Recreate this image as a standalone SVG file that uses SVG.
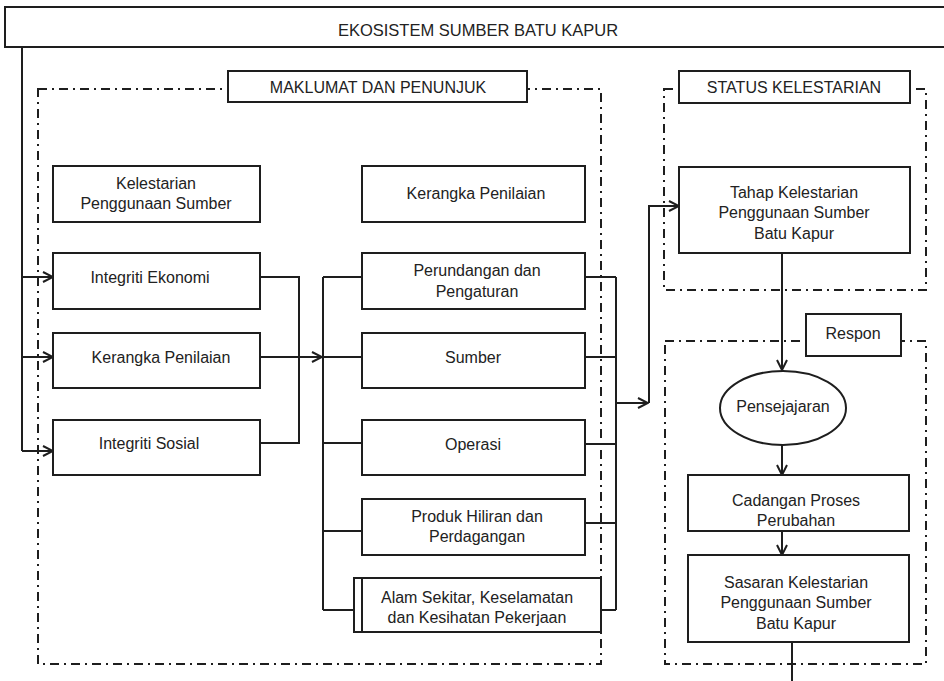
<svg xmlns="http://www.w3.org/2000/svg" width="944" height="681" viewBox="0 0 944 681">
<style>
.box{fill:#fff;stroke:#1e1e1e;stroke-width:2}
.grp{fill:none;stroke:#1e1e1e;stroke-width:2;stroke-dasharray:9 5 2 5}
.ln{fill:none;stroke:#1e1e1e;stroke-width:2}
text{font-family:"Liberation Sans",Arial,sans-serif;font-size:16px;fill:#222;text-anchor:middle}
.cap{font-size:16.5px}
</style>
<defs>
<marker id="arr" viewBox="0 0 12 12" refX="11" refY="6" markerWidth="12" markerHeight="12" markerUnits="userSpaceOnUse" orient="auto">
<path d="M1,1 L11,6 L1,11" fill="none" stroke="#1e1e1e" stroke-width="2"/>
</marker>
</defs>
<rect width="944" height="681" fill="#fff"/>

<g id="ekosistem">
<rect class="box" x="5" y="7" width="945" height="40"/>
<text class="cap" x="478" y="36">EKOSISTEM SUMBER BATU KAPUR</text>
</g>

<g id="grp-maklumat">
<rect class="grp" x="38" y="89" width="563" height="575"/>
<rect class="box" x="228" y="71" width="299" height="31"/>
<text x="378" y="93">MAKLUMAT DAN PENUNJUK</text>
</g>
<g id="grp-status">
<rect class="grp" x="664" y="89" width="262" height="201"/>
<rect class="box" x="679" y="71" width="231" height="32"/>
<text x="794" y="93">STATUS KELESTARIAN</text>
</g>
<g id="grp-respon">
<rect class="grp" x="665" y="341" width="261" height="323"/>
<rect class="box" x="806" y="314" width="95" height="42"/>
<text x="853" y="339">Respon</text>
</g>

<g id="connectors">
<path class="ln" d="M22,47 V451"/>
<path class="ln" d="M22,277 H53" marker-end="url(#arr)"/>
<path class="ln" d="M22,357 H53" marker-end="url(#arr)"/>
<path class="ln" d="M22,451 H53" marker-end="url(#arr)"/>
<path class="ln" d="M260,277 H299 V443 H260"/>
<path class="ln" d="M260,357 H322" marker-end="url(#arr)"/>
<path class="ln" d="M323,277 V610"/>
<path class="ln" d="M323,277 H362 M323,357 H362 M323,443 H362 M323,531 H362 M323,610 H354"/>
<path class="ln" d="M585,277 H616 M585,357 H616 M585,444 H616 M585,523 H616 M601,610 H616 M616,277 V610"/>
<path class="ln" d="M616,403 H648" marker-end="url(#arr)"/>
<path class="ln" d="M649,403 V206 H679" marker-end="url(#arr)"/>
<path class="ln" d="M782,253 V370" marker-end="url(#arr)"/>
<path class="ln" d="M782,445 V475" marker-end="url(#arr)"/>
<path class="ln" d="M782,531 V555" marker-end="url(#arr)"/>
<path class="ln" d="M792,642 V681"/>
</g>

<g id="kelestarian">
<rect class="box" x="53" y="166" width="207" height="56"/>
<text x="156" y="189">Kelestarian</text>
<text x="156" y="209">Penggunaan Sumber</text>
</g>
<g id="integriti-ekonomi">
<rect class="box" x="53" y="253" width="207" height="56"/>
<text x="150" y="283">Integriti Ekonomi</text>
</g>
<g id="kerangka-kiri">
<rect class="box" x="53" y="333" width="207" height="55"/>
<text x="161" y="363">Kerangka Penilaian</text>
</g>
<g id="integriti-sosial">
<rect class="box" x="53" y="420" width="207" height="55"/>
<text x="149" y="449">Integriti Sosial</text>
</g>

<g id="kerangka-tengah">
<rect class="box" x="362" y="166" width="223" height="56"/>
<text x="476" y="199">Kerangka Penilaian</text>
</g>
<g id="perundangan">
<rect class="box" x="362" y="253" width="223" height="56"/>
<text x="477" y="276">Perundangan dan</text>
<text x="477" y="297">Pengaturan</text>
</g>
<g id="sumber">
<rect class="box" x="362" y="333" width="223" height="55"/>
<text x="473" y="363">Sumber</text>
</g>
<g id="operasi">
<rect class="box" x="362" y="420" width="223" height="55"/>
<text x="473" y="450">Operasi</text>
</g>
<g id="produk">
<rect class="box" x="362" y="499" width="223" height="56"/>
<text x="477" y="522">Produk Hiliran dan</text>
<text x="477" y="542">Perdagangan</text>
</g>
<g id="alam">
<rect class="box" x="354" y="578" width="247" height="54"/>
<path class="ln" d="M362,578 V632"/>
<text x="477" y="603">Alam Sekitar, Keselamatan</text>
<text x="477" y="623">dan Kesihatan Pekerjaan</text>
</g>

<g id="tahap">
<rect class="box" x="679" y="167" width="231" height="86"/>
<text x="794" y="198">Tahap Kelestarian</text>
<text x="794" y="218">Penggunaan Sumber</text>
<text x="794" y="239">Batu Kapur</text>
</g>
<g id="pensejajaran">
<ellipse class="box" cx="783" cy="408" rx="63" ry="37"/>
<text x="783" y="412">Pensejajaran</text>
</g>
<g id="cadangan">
<rect class="box" x="688" y="475" width="221" height="56"/>
<text x="796" y="506">Cadangan Proses</text>
<text x="796" y="526">Perubahan</text>
</g>
<g id="sasaran">
<rect class="box" x="688" y="555" width="221" height="87"/>
<text x="796" y="588">Sasaran Kelestarian</text>
<text x="796" y="608">Penggunaan Sumber</text>
<text x="796" y="629">Batu Kapur</text>
</g>
</svg>
